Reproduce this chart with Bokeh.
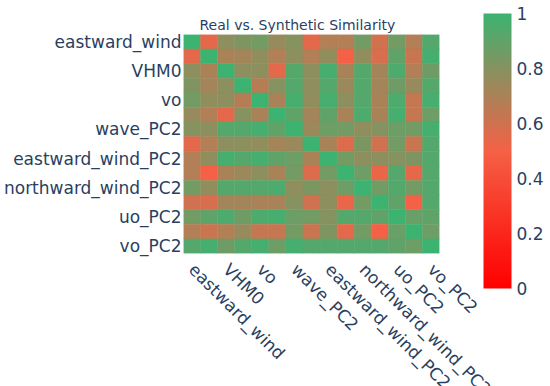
import numpy as np
from bokeh.plotting import figure
from bokeh.models import (ColumnDataSource, LinearColorMapper, ColorBar, FixedTicker,
                          Range1d, Title)
from bokeh.transform import transform
from bokeh.embed import file_html
from bokeh.resources import INLINE

# ---- data ----
variables = ["eastward_wind", "northward_wind", "VHM0", "uo", "vo",
             "wave_PC1", "wave_PC2", "eastward_wind_PC1", "eastward_wind_PC2",
             "northward_wind_PC1", "northward_wind_PC2", "uo_PC1", "uo_PC2",
             "vo_PC1", "vo_PC2"]
shown_labels = ["eastward_wind", "VHM0", "vo", "wave_PC2", "eastward_wind_PC2",
                "northward_wind_PC2", "uo_PC2", "vo_PC2"]
row_00 = [1.00, 0.55, 0.78, 0.82, 0.85, 0.75, 0.80, 0.55, 0.68, 0.68, 0.85, 0.60, 0.85, 0.68, 0.93]
row_01 = [0.55, 1.00, 0.70, 0.72, 0.77, 0.68, 0.78, 0.68, 0.77, 0.50, 0.77, 0.58, 0.90, 0.62, 0.97]
row_02 = [0.78, 0.70, 1.00, 0.78, 0.78, 0.55, 0.93, 0.78, 0.97, 0.70, 0.93, 0.72, 0.95, 0.68, 0.86]
row_03 = [0.82, 0.72, 0.78, 1.00, 0.67, 0.80, 0.93, 0.78, 0.93, 0.74, 0.93, 0.72, 0.86, 0.75, 0.93]
row_04 = [0.85, 0.77, 0.78, 0.67, 1.00, 0.70, 0.97, 0.77, 0.97, 0.78, 0.93, 0.70, 0.95, 0.63, 0.97]
row_05 = [0.75, 0.68, 0.55, 0.80, 0.70, 1.00, 0.90, 0.72, 0.90, 0.70, 0.95, 0.70, 0.97, 0.63, 0.87]
row_06 = [0.80, 0.78, 0.93, 0.93, 0.97, 0.90, 1.00, 0.74, 0.87, 0.85, 0.77, 0.80, 0.87, 0.85, 0.97]
row_07 = [0.55, 0.68, 0.78, 0.78, 0.77, 0.72, 0.74, 1.00, 0.70, 0.57, 0.83, 0.60, 0.85, 0.62, 0.93]
row_08 = [0.68, 0.77, 0.97, 0.93, 0.97, 0.90, 0.87, 0.70, 1.00, 0.85, 0.78, 0.78, 0.80, 0.82, 0.93]
row_09 = [0.68, 0.50, 0.70, 0.74, 0.78, 0.70, 0.85, 0.57, 0.85, 1.00, 0.87, 0.53, 0.93, 0.54, 0.93]
row_10 = [0.85, 0.77, 0.93, 0.93, 0.93, 0.95, 0.77, 0.83, 0.78, 0.87, 1.00, 0.85, 0.93, 0.85, 0.93]
row_11 = [0.60, 0.58, 0.72, 0.72, 0.70, 0.70, 0.80, 0.60, 0.78, 0.53, 0.85, 1.00, 0.90, 0.50, 0.93]
row_12 = [0.85, 0.90, 0.95, 0.86, 0.95, 0.97, 0.87, 0.85, 0.80, 0.93, 0.93, 0.90, 1.00, 0.88, 0.90]
row_13 = [0.68, 0.62, 0.68, 0.75, 0.63, 0.63, 0.85, 0.62, 0.82, 0.54, 0.85, 0.50, 0.88, 1.00, 0.87]
row_14 = [0.93, 0.97, 0.86, 0.93, 0.97, 0.87, 0.97, 0.93, 0.93, 0.93, 0.93, 0.93, 0.90, 0.87, 1.00]
similarity = [row_00, row_01, row_02, row_03, row_04, row_05, row_06, row_07,
              row_08, row_09, row_10, row_11, row_12, row_13, row_14]
colorbar_ticks = [0, 0.2, 0.4, 0.6, 0.8, 1]

# ---- colour scale: red -> tomato -> mediumseagreen ----
stops = [(0.0, (255, 0, 0)), (0.5, (245, 97, 70)), (1.0, (60, 179, 113))]
palette = []
for k in range(256):
    t = k / 255
    for (t0, c0), (t1, c1) in zip(stops[:-1], stops[1:]):
        if t0 <= t <= t1:
            s = (t - t0) / (t1 - t0)
            c = [round(a + (b - a) * s) for a, b in zip(c0, c1)]
            break
    palette.append("#%02x%02x%02x" % tuple(c))
mapper = LinearColorMapper(palette=palette, low=0, high=1)

n = len(variables)
xs, ys, vs = [], [], []
for i in range(n):
    for j in range(n):
        xs.append(j)
        ys.append(i)
        vs.append(similarity[i][j])
source = ColumnDataSource(dict(x=xs, y=ys, v=vs))

FONT = "DejaVu Sans"
TXT = "#2a3f5f"

p = figure(frame_width=256, frame_height=219, output_backend="svg", toolbar_location=None,
           x_range=Range1d(-0.5, n - 0.5), y_range=Range1d(n - 0.5, -0.5),
           min_border_top=34, min_border_right=100, min_border_left=170, min_border_bottom=0)
p.title = Title(text="Real vs. Synthetic Similarity", align="left", offset=16,
                text_font=FONT, text_font_size="14px", text_font_style="normal",
                text_color=TXT, standoff=3)
p.outline_line_color = None
p.grid.visible = False

p.rect(x="x", y="y", width=1, height=1, source=source,
       fill_color=transform("v", mapper), line_color=transform("v", mapper), line_width=0.5)

tick_pos = [variables.index(s) for s in shown_labels]
for ax, orient, standoff in ((p.xaxis[0], -np.pi / 4, 13), (p.yaxis[0], "horizontal", 2)):
    ax.ticker = FixedTicker(ticks=tick_pos)
    ax.major_label_overrides = {k: variables[k] for k in tick_pos}
    ax.axis_line_color = None
    ax.major_tick_line_color = None
    ax.minor_tick_line_color = None
    ax.major_tick_out = 0
    ax.major_tick_in = 0
    ax.minor_tick_out = 0
    ax.major_label_text_font = FONT
    ax.major_label_text_font_size = "17px"
    ax.major_label_text_color = TXT
    ax.major_label_standoff = standoff
    ax.major_label_orientation = orient

cb = ColorBar(color_mapper=mapper, ticker=FixedTicker(ticks=colorbar_ticks),
              width=28, height=275, location=(44, -35), padding=0,
              label_standoff=5, major_label_text_font=FONT,
              major_label_text_font_size="17px", major_label_text_color=TXT,
              major_tick_line_color=None, bar_line_color=None,
              border_line_color=None, background_fill_alpha=0)
p.add_layout(cb, "right")

open("out.html", "w").write(file_html(p, INLINE))
